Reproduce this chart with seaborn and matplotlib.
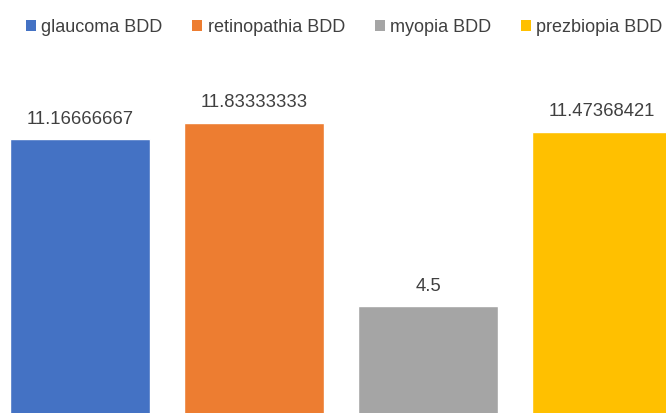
import matplotlib
matplotlib.use("Agg")
import matplotlib.pyplot as plt
from matplotlib.patches import Patch
import seaborn as sns

# data
categories = ["glaucoma BDD", "retinopathia BDD", "myopia BDD", "prezbiopia BDD"]
values = [11.16666667, 11.83333333, 4.5, 11.47368421]
value_labels = ["11.16666667", "11.83333333", "4.5", "11.47368421"]
colors = ["#4472C4", "#ED7D31", "#A5A5A5", "#FFC000"]

sns.set_theme(style="white")
plt.rcParams["font.family"] = ["Liberation Sans", "DejaVu Sans"]

fig = plt.figure(figsize=(6.66, 4.14), dpi=100)
# chart is cropped: baseline sits just below the bottom edge
ax = fig.add_axes([0, -6 / 414, 1, 420 / 414])

sns.barplot(x=categories, y=values, hue=categories, palette=colors,
            width=0.805, legend=False, saturation=1, ax=ax)

for cont, lab in zip(ax.containers, value_labels):
    ax.bar_label(cont, labels=[lab], padding=9, fontsize=13.3, color="#404040")

ax.set_xlim(-80 / 174, 586 / 174)
ax.set_ylim(0, 420 / 25.05)
ax.axis("off")

handles = [Patch(facecolor=c, edgecolor="none") for c in colors]
fig.legend(handles, categories, loc="center left",
           bbox_to_anchor=(26 / 666, 1 - 28 / 414), ncol=4, frameon=False,
           fontsize=13, handlelength=0.55, handleheight=0.55,
           handletextpad=0.3, columnspacing=1.65, borderpad=0,
           borderaxespad=0, labelcolor="#404040")

fig.savefig("out.png", dpi=100)
